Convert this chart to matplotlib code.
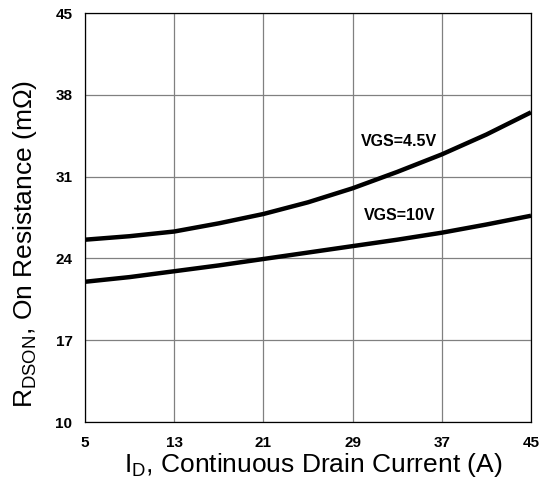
import matplotlib

matplotlib.use("Agg")
import matplotlib.pyplot as plt

plt.rcParams["font.family"] = ["Liberation Sans", "DejaVu Sans"]
plt.rcParams["mathtext.fontset"] = "custom"
plt.rcParams["mathtext.rm"] = "Liberation Sans"

# drain current (A) and on-resistance (mOhm)
current = [5, 9, 13, 17, 21, 25, 29, 33, 37, 41, 45]
rds_vgs45 = [25.6, 25.9, 26.3, 27.0, 27.8, 28.8, 30.0, 31.4, 32.9, 34.6, 36.5]
rds_vgs10 = [22.0, 22.4, 22.9, 23.4, 23.95, 24.5, 25.05, 25.6, 26.2, 26.9, 27.65]

x_ticks = [5, 13, 21, 29, 37, 45]
y_ticks = [10, 17, 24, 31, 38, 45]

fig = plt.figure(figsize=(5.47, 4.86), dpi=100)
ax = fig.add_axes([85 / 547, 1 - 422 / 486, 446 / 547, 409 / 486])

ax.plot(current, rds_vgs45, color="black", lw=3.2, solid_capstyle="butt")
ax.plot(current, rds_vgs10, color="black", lw=3.2, solid_capstyle="butt")

ax.text(33.2, 34.0, "VGS=4.5V", fontsize=11.5, fontweight="bold", ha="center", va="center")
ax.text(33.2, 27.7, "VGS=10V", fontsize=11.5, fontweight="bold", ha="center", va="center")

ax.set_xlim(5, 45)
ax.set_ylim(10, 45)
ax.set_xticks(x_ticks)
ax.set_yticks(y_ticks)
ax.grid(True, color="#808080", lw=0.9)
ax.tick_params(length=0, labelsize=11)
ax.tick_params(axis="x", pad=10)
ax.tick_params(axis="y", pad=9)
for lab in ax.get_xticklabels() + ax.get_yticklabels():
    lab.set_fontweight("bold")
for sp in ax.spines.values():
    sp.set_linewidth(0.9)

ax.set_xlabel(r"I$_{\mathrm{D}}$, Continuous Drain Current (A)", fontsize=19)
ax.set_ylabel(r"R$_{\mathrm{DSON}}$, On Resistance (m$\Omega$)", fontsize=19)
ax.xaxis.set_label_coords(0.512, -0.07)
ax.yaxis.set_label_coords(-0.104, 0.435)

fig.savefig("out.png", dpi=100)
